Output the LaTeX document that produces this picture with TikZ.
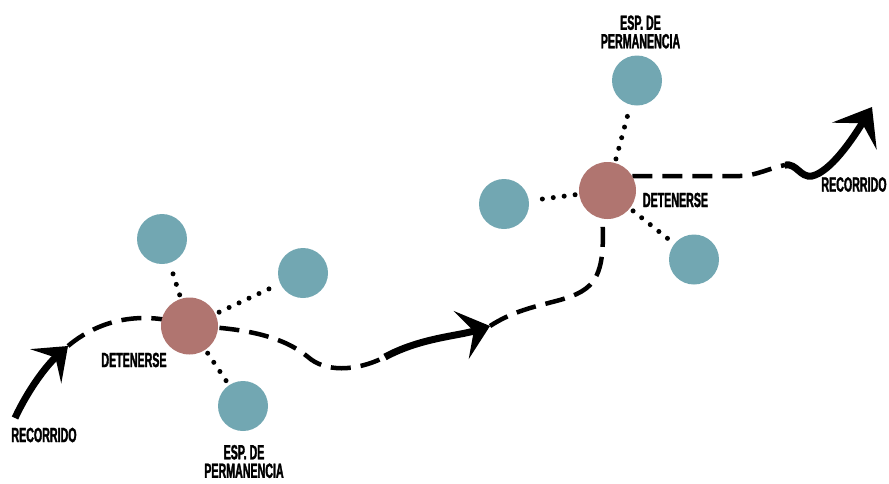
\documentclass[tikz,border=0pt]{standalone}
\usepackage{fontspec}
\newfontfamily\lblfont[FakeStretch=0.52,FakeBold=1.6]{Liberation Sans Bold}
\usetikzlibrary{arrows.meta,backgrounds}
\definecolor{stopred}{HTML}{B07570}
\definecolor{placeblue}{HTML}{72A7B2}
\begin{document}
\begin{tikzpicture}[x=1pt,y=-1pt,
  stopnode/.style={circle,fill=stopred,minimum size=57pt,inner sep=0pt},
  placenode/.style={circle,fill=placeblue,minimum size=50pt,inner sep=0pt},
  lbl/.style={font=\lblfont\fontsize{20.5}{18.5}\selectfont,inner sep=0pt,align=center},
  route/.style={line width=4.5pt,dash pattern=on 20pt off 10pt},
  dotlink/.style={line width=5pt,line cap=round,dash pattern=on 0pt off 11pt,shorten <=4pt,shorten >=4pt},
  bigarrow/.style={line width=7pt}]
\path[use as bounding box] (0,0) rectangle (889,483);

% stops and places
\node[stopnode] (r1) at (189.5,326) {};
\node[placenode] (b1) at (162,239) {};
\node[placenode] (b2) at (303,273) {};
\node[placenode] (b3) at (243,406) {};
\node[stopnode] (r2) at (607.5,190.5) {};
\node[placenode] (b4) at (637,80.5) {};
\node[placenode] (b5) at (504,204) {};
\node[placenode] (b6) at (694,259.5) {};

% labels
\node[lbl] (d1) at (134,360) {DETENERSE};
\node[lbl] (d2) at (675.5,200) {DETENERSE};
\node[lbl] (rc1) at (44,435) {RECORRIDO};
\node[lbl] (rc2) at (854,184.5) {RECORRIDO};
\node[lbl] (e1) at (244,461.5) {ESP. DE\\PERMANENCIA};
\node[lbl] (e2) at (640.5,32) {ESP. DE\\PERMANENCIA};

% route points
\coordinate (s1) at (15,418);
\coordinate (t1) at (68,346);
\coordinate (m1) at (385,357);
\coordinate (t2) at (490,326);
\coordinate (m3) at (785,165);
\coordinate (t3) at (872,107);

\begin{scope}[on background layer]
  \draw[dotlink] (r1) -- (b1);
  \draw[dotlink] (r1) -- (b2);
  \draw[dotlink] (r1) -- (b3);
  \draw[dotlink] (r2) -- (b4);
  \draw[dotlink] (r2) -- (b5);
  \draw[dotlink] (r2) -- (b6);

  \draw[route] (t1) .. controls (105,315) and (150,312) .. (r1.center);
  \draw[route] (r1.center) .. controls (250,328) and (285,338) .. (308,357)
               .. controls (325,372) and (355,372) .. (m1);
  \draw[route] (t2) .. controls (530,300) and (570,305) .. (590,285)
               .. controls (605,270) and (603,240) .. (r2.-100);
  \draw[route] (r2.30) -- (740,176) .. controls (755,176) and (770,168) .. (m3);
\end{scope}

\draw[bigarrow,-{Stealth[length=30pt,width=46pt,inset=13pt]}]
  (s1) .. controls (28,390) and (46,366) .. (t1);
\draw[bigarrow,-{Stealth[length=30pt,width=50pt,inset=13pt]}]
  (m1) .. controls (420,338) and (458,336) .. (t2);
\draw[bigarrow,-{Stealth[length=34pt,width=52pt,inset=15pt]}]
  (m3) .. controls (797,163) and (800,178) .. (812,176)
  .. controls (830,172) and (852,140) .. (t3);
\end{tikzpicture}
\end{document}
